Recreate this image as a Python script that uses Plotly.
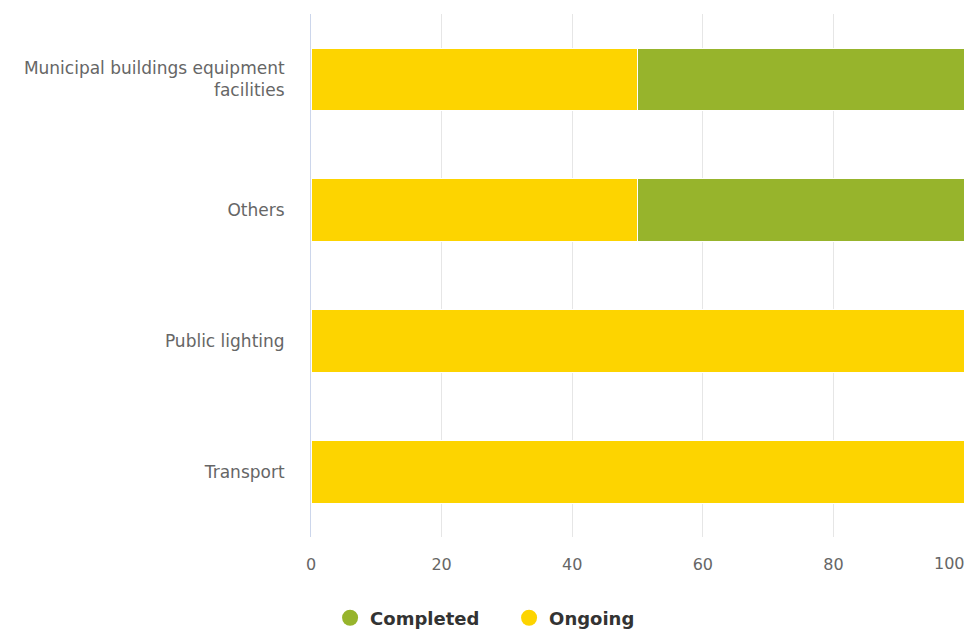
import plotly.graph_objects as go

categories = ["Municipal buildings equipment<br>facilities", "Others", "Public lighting", "Transport"]
completed = [50, 50, 0, 0]
ongoing = [50, 50, 100, 100]
x_ticks = [0, 20, 40, 60, 80, 100]

green = "#97b42c"
yellow = "#fdd400"
font_family = "DejaVu Sans, Verdana, sans-serif"

fig = go.Figure()

# stacked: ongoing first on the left, completed on top
fig.add_trace(go.Bar(y=categories, x=ongoing, orientation="h", name="Ongoing",
                     marker=dict(color=yellow, line=dict(color="white", width=1)),
                     showlegend=False))
fig.add_trace(go.Bar(y=categories, x=completed, orientation="h", name="Completed",
                     marker=dict(color=green, line=dict(color="white", width=1)),
                     showlegend=False))

# legend entries with round symbols
for name, col in [("Completed", green), ("Ongoing", yellow)]:
    fig.add_trace(go.Scatter(x=[None], y=[None], mode="markers", name=name,
                             marker=dict(color=col, size=16, symbol="circle")))

# last tick label is pulled inside the chart edge (like the original), others normal
tick_text = [str(v) if v != x_ticks[-1] else "" for v in x_ticks]
fig.add_annotation(x=x_ticks[-1], xref="x", y=-0.05, yref="paper",
                   text=str(x_ticks[-1]), showarrow=False, xanchor="right",
                   yanchor="middle", xshift=3,
                   font=dict(size=16, color="#666666", family=font_family))

fig.update_layout(
    barmode="stack",
    bargap=0.52,
    width=966, height=630,
    paper_bgcolor="white", plot_bgcolor="white",
    font=dict(family=font_family, color="#666666", size=14),
    margin=dict(l=311, r=2, t=14, b=93, autoexpand=False),
    xaxis=dict(range=[0, 100], tickvals=x_ticks, ticktext=tick_text,
               showgrid=True, gridcolor="#e6e6e6", gridwidth=1,
               zeroline=False, showline=False, ticks="", automargin=False,
               tickfont=dict(size=16, color="#666666"), ticklabelstandoff=16),
    yaxis=dict(autorange="reversed", showgrid=False, zeroline=False,
               showline=True, linecolor="#ccd6eb", linewidth=1,
               ticks="", ticklabelstandoff=22,
               tickfont=dict(size=17, color="#666666")),
    legend=dict(orientation="h", xref="container", x=0.527, xanchor="center",
                yref="container", y=0.019, yanchor="middle",
                font=dict(size=18, color="#333333", family=font_family, weight="bold"),
                itemsizing="trace", itemwidth=30, traceorder="normal",
                entrywidth=134, entrywidthmode="pixels"),
)

fig.write_html("out.html", config={"displayModeBar": False},
               post_script="document.body.style.margin = '0';")
